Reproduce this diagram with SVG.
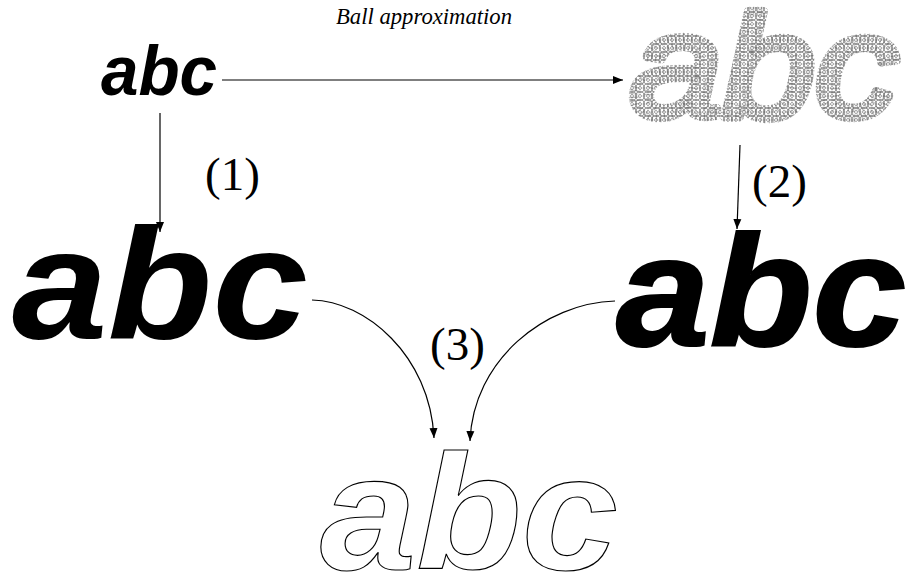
<svg xmlns="http://www.w3.org/2000/svg" width="907" height="574" viewBox="0 0 907 574">
  <defs>
    <marker id="arrow" viewBox="0 0 10 10" refX="10" refY="5" markerWidth="10" markerHeight="10" markerUnits="userSpaceOnUse" orient="auto">
      <path d="M0,1 L10,5 L0,9 Z" fill="#000"/>
    </marker>
    <!-- overlapping rings used as the texture of the ball-approximated glyphs -->
    <pattern id="rings" width="8" height="8" patternUnits="userSpaceOnUse">
      <rect width="8" height="8" fill="#fff"/>
      <g fill="none" stroke="#333" stroke-width="0.5">
        <circle cx="4" cy="4" r="4.6"/>
        <circle cx="0" cy="0" r="4.6"/>
        <circle cx="8" cy="0" r="4.6"/>
        <circle cx="0" cy="8" r="4.6"/>
        <circle cx="8" cy="8" r="4.6"/>
      </g>
    </pattern>
  </defs>
  <style>
    .glyphs { font-family: "Liberation Sans", Arial, sans-serif; font-style: italic; font-weight: bold; }
    .balls { font-family: "Liberation Sans", Arial, sans-serif; font-style: italic; font-size: 146px; stroke-linejoin: round; }
    .num { font-family: "Liberation Serif", "Times New Roman", serif; font-size: 47px; fill: #000; }
    .edge { fill: none; stroke: #000; stroke-width: 1.2; marker-end: url(#arrow); }
  </style>

  <g id="source">
    <text class="glyphs" x="101" y="95" font-size="70" textLength="116" lengthAdjust="spacingAndGlyphs">abc</text>
  </g>

  <g id="balls">
    <!-- ring-filled body, then a dotted rim where the outer balls meet -->
    <text class="balls" x="630" y="117" textLength="268" lengthAdjust="spacingAndGlyphs" fill="url(#rings)" stroke="url(#rings)" stroke-width="8">abc</text>
    <text class="balls" x="630" y="117" textLength="268" lengthAdjust="spacingAndGlyphs" fill="none" stroke="#444" stroke-width="8.6" stroke-dasharray="1 2.5" opacity="0.35">abc</text>
  </g>

  <g id="offset">
    <text class="glyphs" x="12" y="338" font-size="158" textLength="296" lengthAdjust="spacingAndGlyphs">abc</text>
  </g>

  <g id="reconstructed">
    <text class="glyphs" x="616" y="345" font-size="158" textLength="290" lengthAdjust="spacingAndGlyphs" stroke="#000" stroke-width="2">abc</text>
  </g>

  <g id="difference">
    <text class="glyphs" x="320" y="569" font-size="164" textLength="298" lengthAdjust="spacingAndGlyphs" fill="#fff" stroke="#000" stroke-width="1.1">abc</text>
  </g>

  <g id="connectors">
    <path class="edge" d="M222,80 L623,80"/>
    <path class="edge" d="M160,113 L160,232"/>
    <path class="edge" d="M740,145 L737,229"/>
    <path class="edge" d="M312,300 C365,301 430,355 434,438"/>
    <path class="edge" d="M615,301 C545,303 473,360 470,441"/>
  </g>

  <g id="labels">
    <text x="336" y="24" font-family="Liberation Serif, 'Times New Roman', serif" font-style="italic" font-size="23" textLength="176" lengthAdjust="spacingAndGlyphs">Ball approximation</text>
    <text class="num" x="205" y="190">(1)</text>
    <text class="num" x="752" y="197">(2)</text>
    <text class="num" x="430" y="360">(3)</text>
  </g>
</svg>
